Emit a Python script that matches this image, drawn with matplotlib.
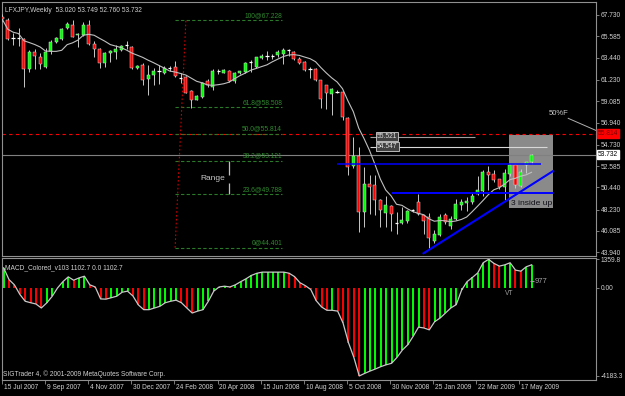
import numpy as np
import pandas as pd
import matplotlib
matplotlib.use('Agg')
import matplotlib.pyplot as plt
from matplotlib.patches import Rectangle
import matplotlib.transforms as mtransforms

plt.rcParams['font.family'] = ['Liberation Sans', 'DejaVu Sans']

# weekly OHLC (bar 0 = 15 Jul 2007)
opens = [67.5, 67.23, 65.35, 65.4, 65.29, 62.28, 64.05, 63.5, 62.5, 64.15,
         65.0, 65.3, 66.4, 66.7, 65.7, 65.7, 66.7, 64.8, 64.3, 62.95,
         63.95, 64.0, 64.2, 64.65, 64.5, 62.4, 62.7, 61.3, 61.7, 62.05,
         61.9, 62.35, 62.5, 61.4, 61.55, 60.1, 59.2, 59.5, 61.1, 60.5,
         62.05, 61.95, 62.15, 61.15, 61.9, 62.05, 62.95, 62.5, 63.4, 63.55,
         63.55, 63.7, 63.8, 64.15, 64.0, 63.35, 63.0, 62.3, 62.3, 61.2,
         60.7, 59.8, 60.05, 60.04, 57.45, 52.6, 53.6, 48.0, 50.8, 50.7,
         49.2, 47.9, 48.6, 46.85, 46.9, 47.1, 48.15, 49.0, 47.65, 47.5,
         45.1, 45.7, 47.65, 46.6, 47.3, 48.7, 48.9, 49.0, 49.8, 50.1,
         52.0, 51.8, 51.25, 50.5, 51.8, 52.7, 50.6, 52.7, 53.02]
highs = [67.8, 67.43, 65.9, 66.4, 65.4, 64.2, 64.3, 63.9, 64.4, 65.2,
         65.5, 66.4, 67.0, 67.2, 65.9, 67.0, 67.2, 65.1, 64.4, 64.05,
         64.2, 64.7, 64.7, 65.1, 64.6, 62.7, 62.9, 62.7, 62.4, 62.7,
         62.6, 62.6, 63.1, 61.9, 61.6, 60.2, 59.7, 61.0, 61.3, 62.3,
         62.3, 62.3, 62.2, 62.05, 62.15, 63.05, 63.2, 63.55, 63.8, 64.1,
         63.8, 64.2, 64.4, 64.35, 64.1, 63.5, 63.1, 62.5, 62.4, 61.2,
         60.7, 60.4, 60.2, 60.1, 57.5, 55.45, 54.5, 52.5, 51.7, 51.7,
         49.3, 49.6, 48.7, 48.0, 48.5, 48.2, 48.3, 49.8, 47.7, 47.9,
         46.2, 47.8, 47.9, 47.6, 49.3, 49.3, 49.5, 49.9, 51.6, 52.2,
         52.6, 52.2, 51.3, 52.3, 52.8, 52.8, 52.3, 53.0, 53.749]
lows = [67.1, 65.2, 64.7, 64.6, 60.5, 62.0, 62.3, 62.3, 62.4, 63.8,
        64.9, 65.2, 66.3, 65.5, 64.5, 65.6, 64.7, 63.5, 62.4, 62.5,
        63.0, 63.3, 64.1, 64.3, 62.3, 62.3, 60.7, 59.7, 60.7, 60.8,
        61.8, 62.1, 61.5, 60.9, 59.9, 58.4, 59.2, 59.4, 60.5, 60.2,
        61.85, 61.9, 61.0, 60.95, 61.85, 61.9, 62.0, 62.4, 63.3, 63.2,
        63.3, 63.5, 62.8, 63.6, 63.2, 62.8, 62.1, 61.4, 61.1, 58.4,
        58.3, 57.7, 59.9, 57.2, 51.7, 52.4, 46.0, 46.5, 47.8, 47.7,
        46.5, 46.5, 46.1, 45.8, 46.8, 46.9, 48.0, 47.7, 45.8, 44.4,
        44.9, 45.6, 46.8, 46.3, 47.2, 48.2, 48.1, 48.8, 49.7, 49.6,
        50.2, 51.0, 50.3, 49.2, 51.6, 50.4, 50.5, 51.9, 52.76]
closes = [67.3, 65.32, 65.4, 65.45, 62.28, 64.05, 63.6, 62.8, 64.05, 65.05,
          65.4, 66.3, 66.8, 65.5, 65.8, 66.7, 64.8, 64.3, 62.95, 63.95,
          64.1, 64.3, 64.6, 64.7, 62.4, 62.6, 61.2, 61.7, 62.1, 62.1,
          62.4, 62.4, 61.6, 61.45, 59.9, 59.2, 59.6, 60.9, 60.7, 62.1,
          62.1, 62.2, 61.15, 61.95, 62.1, 62.95, 63.0, 63.5, 63.6, 63.6,
          63.6, 64.05, 64.2, 64.2, 63.3, 62.9, 62.25, 62.3, 61.2, 59.3,
          59.9, 60.28, 60.0, 57.53, 52.5, 53.6, 48.0, 50.8, 50.5, 49.2,
          48.2, 48.7, 47.75, 46.9, 47.15, 48.1, 48.2, 47.8, 47.1, 45.4,
          45.8, 47.45, 47.0, 47.3, 48.8, 49.0, 49.1, 49.6, 50.2, 52.0,
          51.7, 51.2, 50.5, 51.9, 52.7, 50.65, 52.0, 53.0, 53.732]

# MACD main values (points)
macd = [960, 400, 150, -300, -630, -700, -760, -950, -710, -400,
        0, 300, 530, 370, 480, 560, 150, 50, -520, -530,
        -460, -390, -200, -150, -380, -800, -1030, -1030, -950, -870,
        -700, -630, -580, -700, -950, -1190, -1100, -1030, -630, -150,
        50, 85, 50, 150, 300, 440, 600, 700, 754, 754,
        754, 754, 754, 700, 540, 250, 110, -70, -600, -900,
        -1060, -1060, -1100, -1670, -2600, -3300, -4183, -4060, -3950, -3850,
        -3740, -3650, -3580, -3300, -2950, -2700, -2300, -1860, -1900, -1990,
        -1600, -1430, -1190, -950, -790, -100, 300, 500, 720, 1200,
        1360, 1170, 1040, 1100, 1200, 850, 800, 1010, 1103]

date_labels = ['15 Jul 2007', '9 Sep 2007', '4 Nov 2007', '30 Dec 2007', '24 Feb 2008',
               '20 Apr 2008', '15 Jun 2008', '10 Aug 2008', '5 Oct 2008', '30 Nov 2008',
               '25 Jan 2009', '22 Mar 2009', '17 May 2009']
date_bars = [0, 8, 16, 24, 32, 40, 48, 56, 64, 72, 80, 88, 96]

price_ticks = [67.730, 65.585, 63.440, 61.230, 59.085, 56.940, 54.730,
               52.585, 50.440, 48.230, 46.085, 43.940]

fib_names = ['100', '61.8', '50.0', '38.2', '23.6', '0']
fib_prices = [67.228, 58.508, 55.814, 53.121, 49.788, 44.401]

BG = 'black'
GRID = '#909090'
TXT = '#d0d0d0'
FS = 4.8

fig = plt.figure(figsize=(6.25, 3.96), dpi=100, facecolor=BG)
ax = fig.add_axes([2 / 625, 1 - 256 / 396, 594 / 625, 254 / 396], facecolor=BG)
ax2 = fig.add_axes([2 / 625, 1 - 380 / 396, 594 / 625, 122 / 396], facecolor=BG)

xlim = (-0.056, 109.94)
n = len(closes)
idx = np.arange(n)

# --- price panel ---
ax.set_xlim(*xlim)
ax.set_ylim(43.57, 69.033)

# pattern box
ax.add_patch(Rectangle((93.9, 48.35), 8.0, 7.35, facecolor='#8a8a8a', edgecolor='none', zorder=1))
ax.text(94.15, 48.85, '3 inside up', color='#101018', fontsize=6.1, va='center', ha='left', zorder=5)

# candles
for i in range(n):
    o, h, l, c = opens[i], highs[i], lows[i], closes[i]
    ax.vlines(i, l, h, color='#c8c8c8', lw=0.7, zorder=3)
    if abs(c - o) < 0.07:
        ax.hlines(c, i - 0.3, i + 0.3, color='white', lw=0.9, zorder=4)
    else:
        col = '#00ff00' if c > o else '#ff0000'
        ax.add_patch(Rectangle((i - 0.28, min(o, c)), 0.56, abs(c - o),
                               facecolor=col, edgecolor='#d8d8d8', lw=0.35, zorder=4))

# moving average
ma = pd.Series(closes).rolling(8, min_periods=1).mean()
ax.plot(idx, ma, color='#c0c0c0', lw=0.8, zorder=5)

# horizontal lines
ax.axhline(55.814, color='#ff0000', lw=0.8, ls=(0, (3, 3)), zorder=2)
ax.axhline(53.732, color='#808080', lw=0.8, zorder=2)

# fibonacci
for name, p in zip(fib_names, fib_prices):
    ax.hlines(p, 32.0, 51.8, color='#2a7a2a', lw=0.8, ls=(0, (3, 2)), zorder=2)
    ax.text(51.8, p + 0.12, f'{name}@{p:.3f}', color='#2f8a2f', fontsize=FS,
            ha='right', va='bottom', zorder=2)
ax.plot([32.0, 34.0], [44.401, 67.228], color='#cc0000', lw=0.8, ls=(0, (1.5, 2)), zorder=2)

# range marker
ax.text(36.6, 51.29, 'Range', color='#c8c8c8', fontsize=6, va='center', ha='left')
ax.vlines(42.0, 51.69, 53.09, color='#c0c0c0', lw=0.9)
ax.vlines(42.0, 49.76, 50.92, color='#c0c0c0', lw=0.9)

# support / resistance and trend line
ax.hlines(52.79, 62.0, 99.8, color='#0000ff', lw=1.1, zorder=6)
ax.hlines(49.86, 72.2, 102.0, color='#0000ff', lw=1.4, zorder=6)
ax.plot([78.0, 102.0], [43.84, 52.09], color='#0000ff', lw=1.5, zorder=6)

# target lines with boxed labels
ax.hlines(55.521, 68.1, 87.5, color='#a0a0a0', lw=0.8, zorder=6)
ax.hlines(54.547, 68.1, 100.8, color='#d8d8d8', lw=0.8, zorder=6)
for p in [55.521, 54.547]:
    ax.text(69.4, p, f'{p:.3f}', color='#e0e0e0', fontsize=FS, va='center', ha='left', zorder=7,
            bbox=dict(boxstyle='square,pad=0.15', fc='#404040', ec='#d0d0d0', lw=0.6))

# 50%F pointer
ax.text(101.1, 57.88, '50%F', color='#c8c8c8', fontsize=5.5, va='center', ha='left')
ax.plot([104.8, 110.05], [57.37, 56.13], color='#b0b0b0', lw=0.7, clip_on=False)

ax.text(0.005, 0.968, 'LFXJPY,Weekly  53.020 53.749 52.760 53.732', transform=ax.transAxes,
        color=TXT, fontsize=FS, va='center', ha='left', zorder=8)

ax.yaxis.tick_right()
ax.set_yticks(price_ticks)
ax.set_yticklabels([f'{t:.3f}' for t in price_ticks])
ax.tick_params(axis='y', colors=GRID, labelcolor=TXT, labelsize=FS, length=2, width=0.6, pad=1.5)
ax.set_xticks([])

trans = mtransforms.blended_transform_factory(ax.transAxes, ax.transData)
ax.text(1.003, 55.814, '55.814', transform=trans, color='#700000', fontsize=FS, va='center',
        ha='left', clip_on=False, bbox=dict(boxstyle='square,pad=0.15', fc='#ff0000', ec='#ff0000'))
ax.text(1.003, 53.732, '53.732', transform=trans, color='black', fontsize=FS, va='center',
        ha='left', clip_on=False, bbox=dict(boxstyle='square,pad=0.15', fc='white', ec='white'))

# --- MACD panel ---
ax2.set_xlim(*xlim)
ax2.set_ylim(-4374, 1426)
prev = np.r_[macd[0], macd[:-1]]
cols = ['#00ff00' if v >= p else '#ff0000' for v, p in zip(macd, prev)]
ax2.vlines(idx, 0, macd, colors=cols, lw=1.4)
ax2.plot(idx, macd, color='#c8c8c8', lw=0.9)

ax2.text(0.005, 0.92, 'MACD_Colored_v103 1102.7 0.0 1102.7', transform=ax2.transAxes,
         color=TXT, fontsize=FS, va='center', ha='left')
ax2.text(0.002, 0.045, 'SIGTrader 4, \u00a9 2001-2009 MetaQuotes Software Corp.', transform=ax2.transAxes,
         color=TXT, fontsize=FS, va='center', ha='left')
ax2.text(98.6, 330, '977', color='#a0a0a0', fontsize=5.5, va='center', ha='left')
ax2.hlines(330, 97.7, 98.4, color='#a0a0a0', lw=0.7)
ax2.text(93.1, -240, 'VT', color='#a0a0a0', fontsize=4.8, va='center', ha='left')

ax2.yaxis.tick_right()
ax2.set_yticks([1359.8, 0, -4183.3])
ax2.set_yticklabels(['1359.8', '0.00', '-4183.3'])
ax2.tick_params(axis='y', colors=GRID, labelcolor=TXT, labelsize=FS, length=2, width=0.6, pad=1.5)

tick_pos = [b - 0.3 for b in date_bars]
ax2.set_xticks(tick_pos)
ax2.set_xticklabels([''] * len(tick_pos))
ax2.tick_params(axis='x', colors=GRID, length=3, width=0.6)
dtrans = mtransforms.blended_transform_factory(ax2.transData, ax2.transAxes)
for b, lab in zip(tick_pos, date_labels):
    ax2.text(b + 0.35, -0.065, lab, transform=dtrans, color=TXT, fontsize=FS,
             va='center', ha='left', clip_on=False)

for a in (ax, ax2):
    for s in a.spines.values():
        s.set_color(GRID)
        s.set_linewidth(0.8)

fig.savefig('out.png', dpi=100, facecolor=BG)
